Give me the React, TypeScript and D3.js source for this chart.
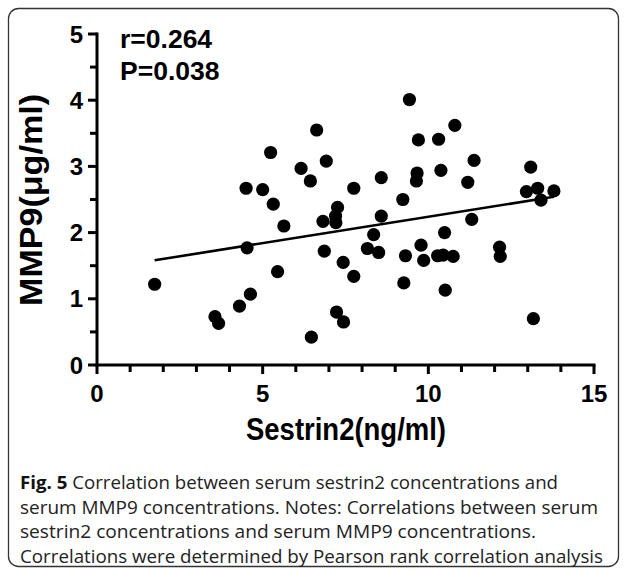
import React from "react";
import * as d3 from "d3";

const sestrin2 = [1.74, 3.56, 3.67, 4.30, 4.50, 4.53, 4.63, 5.00, 5.24, 5.32, 5.45, 5.64, 6.16, 6.44, 6.47, 6.63, 6.82, 6.86, 6.92, 7.26, 7.20, 7.21, 7.23, 7.44, 7.43, 7.75, 7.75, 8.16, 8.35, 8.50, 8.58, 8.58, 9.23, 9.26, 9.31, 9.43, 9.66, 9.64, 9.70, 9.78, 9.86, 10.28, 10.31, 10.38, 10.45, 10.49, 10.51, 10.75, 10.80, 11.19, 11.31, 11.38, 12.15, 12.17, 12.96, 13.09, 13.17, 13.30, 13.40, 13.79];
const mmp9 = [1.22, 0.73, 0.63, 0.89, 2.67, 1.77, 1.07, 2.65, 3.21, 2.43, 1.41, 2.10, 2.97, 2.78, 0.42, 3.55, 2.17, 1.72, 3.08, 2.38, 2.25, 2.15, 0.80, 0.65, 1.55, 2.67, 1.34, 1.76, 1.97, 1.70, 2.83, 2.25, 2.50, 1.24, 1.65, 4.01, 2.90, 2.78, 3.40, 1.81, 1.58, 1.65, 3.41, 2.94, 1.66, 2.00, 1.13, 1.64, 3.62, 2.76, 2.20, 3.09, 1.78, 1.64, 2.62, 2.99, 0.70, 2.67, 2.49, 2.63];

const fitSlope = 0.0796;
const fitIntercept = 1.443;

const xMajorTicks = [0, 5, 10, 15];
const xMinorTicks = [1, 2, 3, 4, 6, 7, 8, 9, 11, 12, 13, 14];
const yMajorTicks = [0, 1, 2, 3, 4, 5];
const yMinorTicks = [0.5, 1.5, 2.5, 3.5, 4.5];

const statLines = ["r=0.264", "P=0.038"];
const xTitle = "Sestrin2(ng/ml)";
const yTitle = "MMP9(\u03bcg/ml)";
const captionLead = "Fig. 5";
const captionLines = [
  " Correlation between serum sestrin2 concentrations and",
  "serum MMP9 concentrations. Notes: Correlations between serum",
  "sestrin2 concentrations and serum MMP9 concentrations.",
  "Correlations were determined by Pearson rank correlation analysis",
];

export default function App() {
  const W = 627, H = 569;
  const x = d3.scaleLinear().domain([0, 15]).range([97, 594]);
  const y = d3.scaleLinear().domain([0, 5]).range([365, 34]);
  const x0 = d3.min(sestrin2) as number;
  const x1 = d3.max(sestrin2) as number;
  const fit = d3.line<number>().x((d) => x(d)).y((d) => y(fitIntercept + fitSlope * d));
  const bold = "'Liberation Sans', Arial, sans-serif";
  const capFont = "'Open Sans', 'Noto Sans', sans-serif";
  const capWidths = [538, 578, 516, 583];
  return (
    <svg width={W} height={H} style={{ position: "absolute", left: 0, top: 0, display: "block", background: "#fff" }}>
      <rect x={8.5} y={8.5} width={610} height={558} rx={10} ry={10} fill="none" stroke="#333" strokeWidth={1.3} />
      {/* axes */}
      <line x1={x(0)} x2={x(0)} y1={y(5) - 1.5} y2={y(0) + 1.5} stroke="#000" strokeWidth={3} />
      <line x1={x(0) - 1.5} x2={x(15) + 1.5} y1={y(0)} y2={y(0)} stroke="#000" strokeWidth={3} />
      {yMajorTicks.map((t) => (
        <line key={"ym" + t} x1={x(0) - 9} x2={x(0)} y1={y(t)} y2={y(t)} stroke="#000" strokeWidth={3} />
      ))}
      {yMinorTicks.map((t) => (
        <line key={"yn" + t} x1={x(0) - 7} x2={x(0)} y1={y(t)} y2={y(t)} stroke="#000" strokeWidth={3} />
      ))}
      {xMajorTicks.map((t) => (
        <line key={"xm" + t} x1={x(t)} x2={x(t)} y1={y(0)} y2={y(0) + 9} stroke="#000" strokeWidth={3} />
      ))}
      {xMinorTicks.map((t) => (
        <line key={"xn" + t} x1={x(t)} x2={x(t)} y1={y(0)} y2={y(0) + 7} stroke="#000" strokeWidth={3} />
      ))}
      {yMajorTicks.map((t) => (
        <text key={"yl" + t} x={x(0) - 14} y={y(t)} dy="0.36em" textAnchor="end" fontFamily={bold} fontWeight="bold" fontSize={24}>
          {t}
        </text>
      ))}
      {xMajorTicks.map((t) => (
        <text key={"xl" + t} x={x(t)} y={y(0) + 37} textAnchor="middle" fontFamily={bold} fontWeight="bold" fontSize={24}>
          {t}
        </text>
      ))}
      <text x={346} y={440} textAnchor="middle" fontFamily={bold} fontWeight="bold" fontSize={31} textLength={200} lengthAdjust="spacingAndGlyphs">
        {xTitle}
      </text>
      <text transform="translate(42,200) rotate(-90)" textAnchor="middle" fontFamily={bold} fontWeight="bold" fontSize={31} textLength={212} lengthAdjust="spacingAndGlyphs">
        {yTitle}
      </text>
      {statLines.map((s, i) => (
        <text key={s} x={120} y={48 + i * 32} fontFamily={bold} fontWeight="bold" fontSize={26.5}>
          {s}
        </text>
      ))}
      {/* regression line */}
      <path d={fit([x0, x1]) || ""} fill="none" stroke="#000" strokeWidth={2.6} />
      {/* points */}
      {sestrin2.map((v, i) => (
        <circle key={i} cx={x(v)} cy={y(mmp9[i])} r={6.6} fill="#000" />
      ))}
      {/* caption */}
      {captionLines.map((line, i) => (
        <text key={i} x={20} y={489 + i * 24.5} fontFamily={capFont} fontSize={18.5} fill="#222" textLength={capWidths[i]} lengthAdjust="spacingAndGlyphs">
          {i === 0 ? <tspan fontWeight="bold" fill="#111">{captionLead}</tspan> : null}
          {line}
        </text>
      ))}
    </svg>
  );
}
